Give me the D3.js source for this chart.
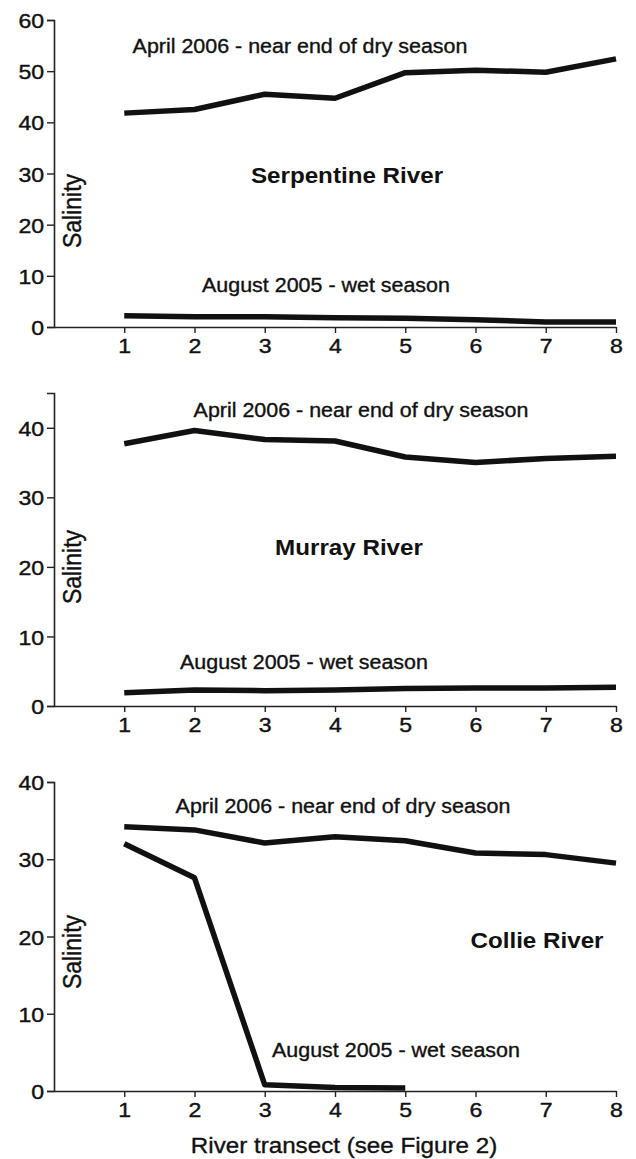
<!DOCTYPE html>
<html>
<head>
<meta charset="utf-8">
<script src="https://cdn.jsdelivr.net/npm/d3@7"></script>
<style>
  html, body { margin: 0; padding: 0; background: #fff; }
  svg { display: block; }
  text { font-family: "Liberation Sans", Arial, sans-serif; fill: #111; }
</style>
</head>
<body>
<svg id="fig" width="636" height="1159"></svg>
<script>
// river transects along the x axis
var transects = [1, 2, 3, 4, 5, 6, 7, 8]
var xTicks = [1, 2, 3, 4, 5, 6, 7, 8]

// salinity
var serpApril = [41.8, 42.5, 45.5, 44.7, 49.7, 50.2, 49.8, 52.4]
var serpAug = [2.2, 2.0, 2.0, 1.8, 1.7, 1.4, 1.0, 1.0]
var murrayApril = [37.7, 39.6, 38.3, 38.1, 35.8, 35.0, 35.6, 35.9]
var murrayAug = [1.9, 2.3, 2.2, 2.3, 2.5, 2.6, 2.6, 2.7]
var collieApril = [34.2, 33.8, 32.1, 32.9, 32.4, 30.8, 30.6, 29.5]
var collieAug = [32.0, 27.6, 0.8, 0.45, 0.4]

var yTicks1 = [0, 10, 20, 30, 40, 50, 60]
var yTicks2 = [0, 10, 20, 30, 40]
var yTicks3 = [0, 10, 20, 30, 40]

var aprilLabel = "April 2006 - near end of dry season"
var augLabel = "August 2005 - wet season"

// scan is a bit stretched sideways, text follows it
var SX = 1.1

var svg = d3.select("#fig")
var x = d3.scaleLinear().domain([0, 8]).range([54, 616])

var panels = [
    {name: "Serpentine River", top: 20, bottom: 327, ymax: 60, ticks: yTicks1,
     april: serpApril, aug: serpAug,
     aprilPos: [300, 53], namePos: [347, 183], augPos: [326, 292], salY: 211},
    {name: "Murray River", top: 393, bottom: 706, ymax: 45, ticks: yTicks2,
     april: murrayApril, aug: murrayAug,
     aprilPos: [361, 417], namePos: [349, 555], augPos: [304, 669], salY: 567},
    {name: "Collie River", top: 782, bottom: 1091, ymax: 40, ticks: yTicks3,
     april: collieApril, aug: collieAug,
     aprilPos: [343, 813], namePos: [537, 948], augPos: [396, 1057], salY: 952}
]

function label(g, txt, px, py, size, weight, rot) {
    var t = "translate(" + px + "," + py + ") scale(" + SX + ",1)"
    if (rot) t += " rotate(" + rot + ")"
    return g.append("text")
        .attr("transform", t)
        .attr("text-anchor", "middle")
        .attr("stroke", weight ? "none" : "#111")
        .attr("stroke-width", 0.35)
        .style("font-size", size + "px")
        .style("font-weight", weight || "normal")
        .text(txt)
}

panels.forEach(function(p) {
    var g = svg.append("g")
    var y = d3.scaleLinear().domain([0, p.ymax]).range([p.bottom, p.top])

    var yAxis = g.append("g")
        .attr("transform", "translate(" + x(0) + ",0)")
        .call(d3.axisLeft(y).tickValues(p.ticks).tickSize(7).tickSizeOuter(7).tickPadding(5))
    var xAxis = g.append("g")
        .attr("transform", "translate(0," + p.bottom + ")")
        .call(d3.axisBottom(x).tickValues(xTicks).tickSize(6).tickSizeOuter(0).tickPadding(5))

    ;[yAxis, xAxis].forEach(function(a) {
        a.select(".domain").attr("stroke", "#222").attr("stroke-width", 1.6)
        a.selectAll(".tick line").attr("stroke", "#222").attr("stroke-width", 1.4)
        a.selectAll(".tick text")
            .attr("fill", "#111")
            .attr("stroke", "#111")
            .attr("stroke-width", 0.4)
            .style("font-size", "21px")
            .style("font-family", '"Liberation Sans", Arial, sans-serif')
    })
    yAxis.selectAll(".tick text").attr("transform", "scale(" + SX + ",1)").attr("x", -9).attr("dy", "0.36em")
    xAxis.selectAll(".tick text").attr("transform", "scale(" + SX + ",1)")

    var line = d3.line()
        .x(function(d, i) { return x(transects[i]) })
        .y(function(d) { return y(d) })

    ;[p.april, p.aug].forEach(function(s) {
        g.append("path")
            .datum(s)
            .attr("d", line)
            .attr("fill", "none")
            .attr("stroke", "#111")
            .attr("stroke-width", 5.5)
            .attr("stroke-linejoin", "round")
    })

    label(g, aprilLabel, p.aprilPos[0], p.aprilPos[1], 19.5)
    label(g, augLabel, p.augPos[0], p.augPos[1], 19.5)
    label(g, p.name, p.namePos[0], p.namePos[1], 22, "bold")
    label(g, "Salinity", 81, p.salY, 23, null, -90)
})

label(svg, "River transect (see Figure 2)", 344, 1153, 22)
</script>
</body>
</html>
